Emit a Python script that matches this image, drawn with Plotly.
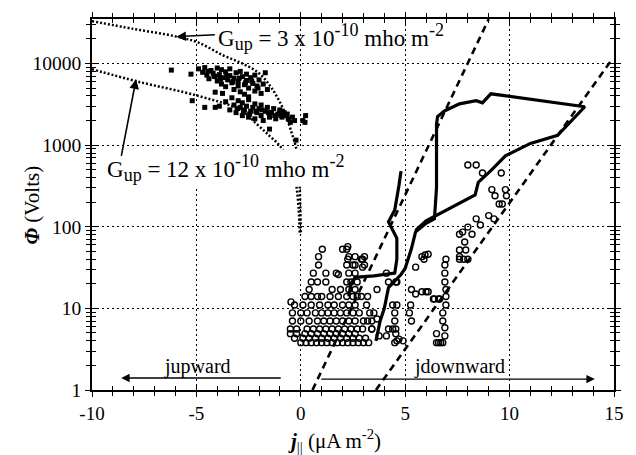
import math
import plotly.graph_objects as go

# ---------------- data ----------------
# filled squares (upward current region)
sq_j = [-6.2, -5.26, -4.9, -4.7, -4.6, -4.5, -4.4, -4.3, -4.2, -4.1, -4.0, -4.0, -3.9, -3.8, -3.8,
        -3.7, -3.6, -3.6, -3.5, -3.4, -3.4, -3.3, -3.2, -3.2, -3.1, -3.0, -3.0, -2.9, -2.9, -2.8,
        -2.7, -2.7, -2.6, -2.6, -2.5, -2.5, -2.4, -2.3, -2.2, -2.2, -2.1, -2.0, -1.9, -1.8, -1.7,
        -1.6, -4.1, -3.75,
        -5.2, -4.6, -4.1, -3.9, -3.6, -3.4, -3.3, -3.2, -3.1, -3.0, -2.9, -2.8, -2.8, -2.7, -2.6,
        -2.5, -2.5, -2.4, -2.3, -2.2, -2.2, -2.1, -2.0, -1.9, -1.9, -1.8, -1.7, -1.6, -1.5, -1.5,
        -1.4, -1.3, -1.2, -1.1, -1.0, -0.9, -0.8, -0.7, -0.6, -0.5, -0.3, -0.23, 0.1, 0.23, 0.2,
        -1.0, -0.4,
        -4.45, -4.15, -3.85, -3.55, -3.25, -2.95, -2.65, -2.35, -2.05, -3.05, -2.75, -2.45, -2.15,
        -1.85, -1.55, -1.25, -0.95, -0.65]
sq_phi = [8300, 7400, 8600, 7800, 8900, 7200, 6500, 8200, 7600, 6900, 8800, 6100, 7300, 5600, 8400,
          6700, 7900, 5200, 6300, 8600, 7100, 5800, 6600, 4800, 7700, 6000, 5300, 8000, 4500, 6900,
          5500, 4200, 7400, 6200, 5000, 3900, 6700, 5700, 4600, 7200, 5300, 6300, 4300, 5600, 7700,
          4800, 4450, 4300,
          3500, 2900, 2900, 3000, 3400, 2700, 3800, 3100, 2500, 3500, 2900, 2300, 3300, 2700, 3000,
          2200, 3600, 2600, 2900, 2100, 3200, 2500, 2800, 2300, 3100, 2000, 2600, 2900, 2200, 1570,
          2500, 2800, 2100, 2400, 2700, 2200, 2500, 2300, 2100, 1900, 2000, 1150, 2000, 2300, 1900,
          2600, 2200,
          8000, 7000, 6400, 7000, 6000, 6600, 5800, 6100, 5000, 2800, 2600, 2400, 2600,
          2700, 2500, 2300, 2300, 2400]

# open circles (downward current region)
ci_j = [0.0, 0.25, 0.5, 0.75, 1.0, 1.25, 1.5, 1.75, 2.0, 2.25, 2.5, 2.75, 3.0, 3.25,
        -0.3, 0.1, 0.4, 0.7, 1.0, 1.3, 1.6, 1.9, 2.2, 2.5, 2.8, 3.1,
        -0.5, -0.2, 0.2, 0.5, 0.8, 1.1, 1.4, 1.7, 2.0, 2.3, 2.6,
        -0.5, -0.2, 0.3, 0.6, 0.9, 1.2, 1.5, 1.8, 2.1, 2.4, 2.7, 3.4,
        -0.4, 0.0, 0.4, 0.8, 1.1, 1.4, 1.7, 2.0, 2.3, 2.6, 3.0,
        -0.4, 0.0, 0.3, 0.7, 1.0, 1.3, 1.6, 1.9, 2.2, 2.5, 2.8,
        -0.3, 0.1, 0.5, 0.9, 1.3, 1.6, 2.0, 2.3, 2.6, -0.47,
        0.2, 0.5, 0.8, 1.0, 1.4, 1.8, 2.2, 2.5, 2.7,
        0.4, 1.5, 1.9, 2.3, 2.6,
        0.5, 0.8, 1.2, 2.2, 2.4, 2.7,
        0.6, 1.2, 1.7, 2.3, 2.6, 1.8,
        0.85, 2.2, 2.5, 2.6, 3.05,
        0.85, 2.3, 2.6, 2.25, 2.96,
        1.03, 2.0, 2.2, 2.25,
        2.9, 3.05, 2.96, 4.1, 4.6, 4.2, 5.9, 6.1, 5.5, 5.8, 3.65, 4.55,
        5.3, 5.5, 5.8, 6.0, 6.35, 6.6,
        5.26, 5.2, 5.3, 4.6, 4.4, 4.5, 4.5, 4.55, 4.4, 4.55, 4.7, 4.9, 4.5,
        2.9, 3.15, 3.3, 3.5, 3.2, 3.4, 3.65, 2.96, 3.4, 4.2, 4.1, 3.75, 4.6, 3.2,
        8.0, 8.4, 8.7, 9.6, 9.15, 9.8, 9.3, 9.85, 9.5, 9.65, 9.0, 9.25, 8.4, 8.6, 8.0,
        7.75, 8.2, 7.6, 7.85, 7.9, 7.6, 8.0, 7.6, 7.8,
        6.95, 6.9, 6.9, 6.9, 6.95, 6.95, 6.65, 6.4, 6.95, 6.8, 6.8, 6.9, 6.5, 6.9, 6.6, 6.8,
        5.95, 6.1, 6.5, 6.7, 7.6]
ci_phi = [3.8] * 14 + [4.3] * 12 + [4.9] * 11 + [5.6] * 12 + [7] * 11 + [8.8] * 11 + \
         [11] * 9 + [12] + [14] * 9 + [17] * 5 + [21] * 6 + [27] * 5 + [26] + \
         [34] * 3 + [34, 34] + [43] * 3 + [40, 40] + [53] * 3 + [57] + \
         [40, 43, 32, 27, 21, 21, 40, 46, 32, 43, 17, 21] + \
         [17, 15, 16, 16, 13, 13] + \
         [11, 8.8, 7, 11, 11, 8.8, 7, 5.6, 5.6, 4.9, 4.2, 4.0, 3.8] + \
         [14, 11, 8.8, 8.8, 7, 7, 7.4, 5.6, 5.6, 5.6, 4.6, 4.6, 4.0, 14] + \
         [570, 570, 455, 455, 285, 285, 240, 240, 190, 190, 137, 125, 125, 105, 99] + \
         [86, 81, 81, 65, 52, 52, 40, 40, 40] + \
         [40, 34, 27, 21, 17, 14, 13, 13, 11, 8.8, 7, 5.8, 4.9, 4.6, 3.8, 3.8] + \
         [45, 16, 3.8, 3.8, 43]

# G_up model curves
g3_j = [-10, -8, -6, -4.9, -3.7, -2.8, -2.0, -1.4, -0.85, -0.47, -0.14, -0.05, 0.0]
g3_phi = [33000, 26500, 21500, 18000, 12500, 10000, 7600, 5000, 2800, 1500, 740, 290, 80]
g12_j = [-10, -7.8, -4.9, -2.9, -2.1, -1.5, -1.03, -0.7, -0.4, -0.23, -0.1, -0.05]
g12_phi = [8500, 6000, 4000, 2700, 1800, 1300, 1000, 740, 450, 330, 160, 80]

# Knight-type dashed lines (end points)
kn1_j = [0.56, 9.0]
kn1_phi = [1, 35000]
kn2_j = [3.6, 14.9]
kn2_phi = [1, 11200]

# trajectories
trA_j = [3.6, 3.8, 4.0, 4.2, 4.8, 5.0, 5.3, 5.5, 6.0, 6.4, 6.5, 6.5, 6.5, 6.55, 6.9, 7.6, 8.4,
         8.7, 9.1, 13.6, 12.3, 11.0, 9.8, 9.15, 8.5, 8.35, 7.1, 6.0, 5.5]
trA_phi = [4.0, 7, 10, 18, 26, 31, 54, 87, 110, 125, 300, 1000, 1800, 2240, 2640, 3200, 3500,
           3300, 4250, 2950, 1320, 1050, 740, 500, 350, 245, 167, 118, 90]
trB_j = [2.3, 2.4, 2.6, 3.5, 4.5, 4.6, 4.6, 4.3, 4.2, 4.5, 4.6, 4.7, 4.8]
trB_phi = [14, 20, 24, 25, 27, 40, 72, 100, 115, 160, 220, 320, 480]

x_ticks = [-10, -5, 0, 5, 10, 15]
x_tick_text = ["-10", "-5", "0", "5", "10", "15"]
y_ticks = [1, 10, 100, 1000, 10000]
y_tick_text = ["1", "10", "100", "1000", "10000"]

L = math.log10  # annotations / shapes on log axes use exponents

# ---------------- figure ----------------
FONT = "Liberation Serif"
fig = go.Figure()

fig.add_trace(go.Scatter(x=kn1_j, y=kn1_phi, mode="lines",
                         line=dict(color="black", width=2.6, dash="7px,5px"), hoverinfo="skip"))
fig.add_trace(go.Scatter(x=kn2_j, y=kn2_phi, mode="lines",
                         line=dict(color="black", width=2.6, dash="7px,5px"), hoverinfo="skip"))
fig.add_trace(go.Scatter(x=ci_j, y=ci_phi, mode="markers",
                         marker=dict(symbol="circle-open", size=6, color="black",
                                     line=dict(width=1.4, color="black"))))
fig.add_trace(go.Scatter(x=sq_j, y=sq_phi, mode="markers",
                         marker=dict(symbol="square", size=5, color="black", line=dict(width=0))))
fig.add_trace(go.Scatter(x=g3_j, y=g3_phi, mode="lines", line_shape="spline",
                         line=dict(color="black", width=2.5, dash="2px,2px")))
fig.add_trace(go.Scatter(x=g12_j, y=g12_phi, mode="lines", line_shape="spline",
                         line=dict(color="black", width=2.5, dash="2px,2px")))
fig.add_trace(go.Scatter(x=trA_j, y=trA_phi, mode="lines",
                         line=dict(color="black", width=3.2)))
fig.add_trace(go.Scatter(x=trB_j, y=trB_phi, mode="lines",
                         line=dict(color="black", width=3.2)))
# dummy trace for overlay axes
fig.add_trace(go.Scatter(x=[None], y=[None], xaxis="x2", yaxis="y2", hoverinfo="skip"))

axis_common = dict(showline=True, linecolor="black", linewidth=1.5, zeroline=False,
                   tickcolor="black", tickwidth=1.3)

fig.update_layout(
    width=636, height=455,
    margin=dict(l=92, r=12, t=14, b=65),
    paper_bgcolor="white", plot_bgcolor="white",
    showlegend=False,
    font=dict(family=FONT, size=19, color="black"),
    xaxis=dict(range=[-10, 15], tickvals=x_ticks, ticktext=x_tick_text,
               ticks="outside", ticklen=5, mirror="ticks",
               showgrid=True, gridcolor="black", gridwidth=1.2, griddash="2px,3px",
               minor=dict(dtick=1, ticks="outside", ticklen=4, tickcolor="black", showgrid=False),
               tickfont=dict(size=19), **axis_common),
    yaxis=dict(type="log", range=[0, 4.545], tickvals=y_ticks, ticktext=y_tick_text,
               ticks="outside", ticklen=5, mirror="ticks",
               showgrid=True, gridcolor="black", gridwidth=1.2, griddash="2px,3px",
               minor=dict(dtick="D1", ticks="outside", ticklen=4, tickcolor="black", showgrid=False),
               tickfont=dict(size=19.5), **axis_common),
    xaxis2=dict(range=[-10, 15], overlaying="x", anchor="y2", tickvals=x_ticks, showticklabels=False,
                ticks="inside", ticklen=5, mirror="ticks", showgrid=False,
                minor=dict(dtick=1, ticks="inside", ticklen=4, tickcolor="black"),
                **axis_common),
    yaxis2=dict(type="log", range=[0, 4.545], overlaying="y", anchor="x2", tickvals=y_ticks,
                showticklabels=False, ticks="inside", ticklen=5, mirror="ticks", showgrid=False,
                minor=dict(dtick="D1", ticks="inside", ticklen=4, tickcolor="black"),
                **axis_common),
)

# hide grid lines behind the direction labels
for x0, x1 in [(-5.6, -4.4), (9.4, 10.6)]:
    fig.add_shape(type="rect", x0=x0, x1=x1, y0=0, y1=0.40, xref="x", yref="y",
                  layer="between", fillcolor="white", line=dict(width=0))

SUB = "<sub><span style='font-size:18px'>{}</span></sub>"
SUP = "<sup><span style='font-size:18px'>{}</span></sup>"
g3_text = "G" + SUB.format("up") + " = 3 x 10" + SUP.format("-10") + " mho m" + SUP.format("-2")
g12_text = "G" + SUB.format("up") + " = 12 x 10" + SUP.format("-10") + " mho m" + SUP.format("-2")

# annotations
fig.add_annotation(x=-4.08, y=L(21300), xanchor="left", yanchor="middle",
                   text=g3_text, showarrow=False, font=dict(size=23))
fig.add_annotation(x=-5.96, y=L(21300), ax=40, ay=-2, text="", showarrow=True,
                   arrowhead=2, arrowsize=1.2, arrowwidth=1.6, arrowcolor="black")
fig.add_annotation(x=-9.39, y=L(525), xanchor="left", yanchor="middle",
                   text=g12_text, showarrow=False, font=dict(size=23), bgcolor="white")
fig.add_annotation(x=-7.89, y=L(6400), ax=-15, ay=78, text="", showarrow=True,
                   arrowhead=2, arrowsize=1.2, arrowwidth=1.6, arrowcolor="black")
fig.add_annotation(x=-4.93, y=L(1.95), text="jupward", showarrow=False, font=dict(size=20))
fig.add_annotation(x=-8.6, y=L(1.4), ax=161, ay=0, text="", showarrow=True,
                   arrowhead=2, arrowsize=1.2, arrowwidth=1.4, arrowcolor="black")
fig.add_annotation(x=7.6, y=L(1.95), text="jdownward", showarrow=False, font=dict(size=20))
fig.add_annotation(x=14.08, y=L(1.36), ax=-275, ay=0, text="", showarrow=True,
                   arrowhead=2, arrowsize=1.2, arrowwidth=1.4, arrowcolor="black")

# axis titles
fig.add_annotation(xref="paper", yref="paper", x=-0.115, y=0.5, xanchor="center", yanchor="middle",
                   textangle=-90, showarrow=False,
                   text="<b><i>Φ</i></b> (Volts)", font=dict(size=21))
fig.add_annotation(xref="paper", yref="paper", x=0.465, y=-0.135, xanchor="center", yanchor="middle",
                   showarrow=False,
                   text="<b><i>j</i></b><sub>||</sub> (μA m<sup>-2</sup>)", font=dict(size=21))

fig.write_html("out.html", post_script="document.body.style.margin='0px';",
               config={"displayModeBar": False})
